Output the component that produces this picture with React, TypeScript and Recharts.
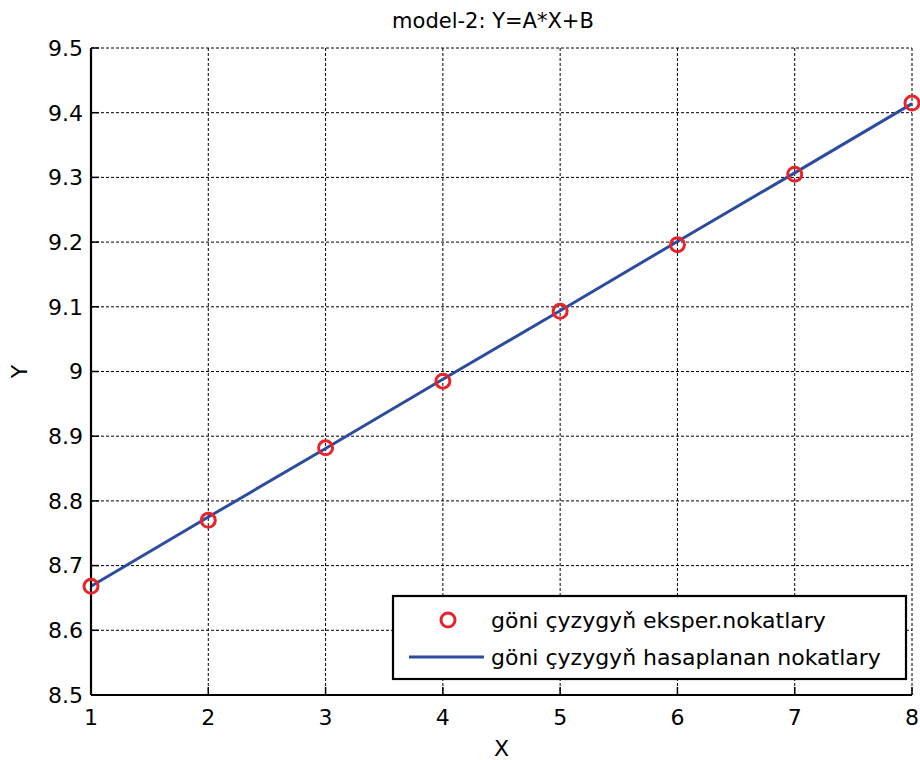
import React from 'react';
import {
  ComposedChart,
  Line,
  XAxis,
  YAxis,
  CartesianGrid,
} from 'recharts';

const xValues = [1, 2, 3, 4, 5, 6, 7, 8];
const experimental = [8.668, 8.77, 8.882, 8.985, 9.093, 9.196, 9.305, 9.415];
const calculated = [8.668, 8.775, 8.881, 8.988, 9.094, 9.201, 9.307, 9.414];
const xTicks = [1, 2, 3, 4, 5, 6, 7, 8];
const yTicks = [8.5, 8.6, 8.7, 8.8, 8.9, 9, 9.1, 9.2, 9.3, 9.4, 9.5];
const seriesNames = ['göni çyzygyň eksper.nokatlary', 'göni çyzygyň hasaplanan nokatlary'];
const title = 'model-2: Y=A*X+B';

const data = xValues.map((x, i) => ({ x, exp: experimental[i], fit: calculated[i] }));

const FONT = 'DejaVu Sans';
const RED = '#e8242a';
const BLUE = '#2b4c9f';

const yFmt = (v: number) => (Number.isInteger(v) ? String(v) : v.toFixed(1));

export default function App() {
  return (
    <div style={{ position: 'absolute', left: 0, top: 0, width: 920, height: 760, background: '#fff', fontFamily: FONT }}>
      <ComposedChart
        width={920}
        height={760}
        data={data}
        margin={{ top: 48, right: 8, bottom: 0, left: 0 }}
        style={{ fontFamily: FONT }}
      >
        <CartesianGrid stroke="#000" strokeWidth={1} strokeDasharray="3 2" horizontalValues={yTicks} verticalValues={xTicks} />
        <XAxis
          dataKey="x"
          type="number"
          domain={[1, 8]}
          ticks={xTicks}
          height={65}
          axisLine={{ stroke: '#000', strokeWidth: 2.2 }}
          tickLine={{ stroke: '#000', strokeWidth: 1.5 }}
          tickSize={-8}
          tickMargin={22}
          tick={{ fontSize: 22, fill: '#000', fontFamily: FONT }}
          label={{ value: 'X', position: 'insideBottom', offset: 4, fontSize: 22, fill: '#000', fontFamily: FONT }}
        />
        <XAxis
          xAxisId="top"
          orientation="top"
          dataKey="x"
          type="number"
          domain={[1, 8]}
          ticks={xTicks}
          height={0}
          axisLine={{ stroke: '#000', strokeWidth: 2.2 }}
          tickLine={{ stroke: '#000', strokeWidth: 1.5 }}
          tickSize={-8}
          tick={false}
        />
        <YAxis
          type="number"
          domain={[8.5, 9.5]}
          ticks={yTicks}
          width={91}
          interval={0}
          tickFormatter={yFmt}
          axisLine={{ stroke: '#000', strokeWidth: 2.2 }}
          tickLine={{ stroke: '#000', strokeWidth: 1.5 }}
          tickSize={-8}
          tickMargin={16}
          tick={{ fontSize: 22, fill: '#000', fontFamily: FONT }}
          label={{
            content: (props: any) => {
              const vb = props.viewBox || { x: 0, y: 48, width: 91, height: 647 };
              const cy = vb.y + vb.height / 2;
              return (
                <text x={27} y={cy} textAnchor="middle" fontSize={22} fill="#000" fontFamily={FONT} transform={`rotate(-90, 27, ${cy})`}>
                  Y
                </text>
              );
            },
          }}
        />
        <YAxis
          yAxisId="right"
          orientation="right"
          type="number"
          domain={[8.5, 9.5]}
          ticks={yTicks}
          width={0}
          interval={0}
          axisLine={{ stroke: '#000', strokeWidth: 2.2 }}
          tickLine={{ stroke: '#000', strokeWidth: 1.5 }}
          tickSize={-8}
          tick={false}
        />
        <Line
          dataKey="exp"
          stroke="none"
          isAnimationActive={false}
          dot={{ r: 7, stroke: RED, strokeWidth: 3, fill: 'none' }}
          activeDot={false}
        />
        <Line
          dataKey="fit"
          type="linear"
          stroke={BLUE}
          strokeWidth={3}
          dot={false}
          activeDot={false}
          isAnimationActive={false}
        />
      </ComposedChart>
      <svg width={920} height={760} style={{ position: 'absolute', left: 0, top: 0, pointerEvents: 'none' }}>
        <text x={493} y={28} textAnchor="middle" fontSize={21} fill="#000" fontFamily={FONT}>
          {title}
        </text>
        <rect x={393} y={596} width={513} height={83} fill="#fff" stroke="#000" strokeWidth={2.2} />
        <circle cx={448} cy={620} r={7} fill="none" stroke={RED} strokeWidth={3} />
        <line x1={409} y1={657} x2={484} y2={657} stroke={BLUE} strokeWidth={3} />
        <text x={491} y={628} fontSize={22} fill="#000" fontFamily={FONT}>
          {seriesNames[0]}
        </text>
        <text x={491} y={665} fontSize={22} fill="#000" fontFamily={FONT}>
          {seriesNames[1]}
        </text>
      </svg>
    </div>
  );
}
